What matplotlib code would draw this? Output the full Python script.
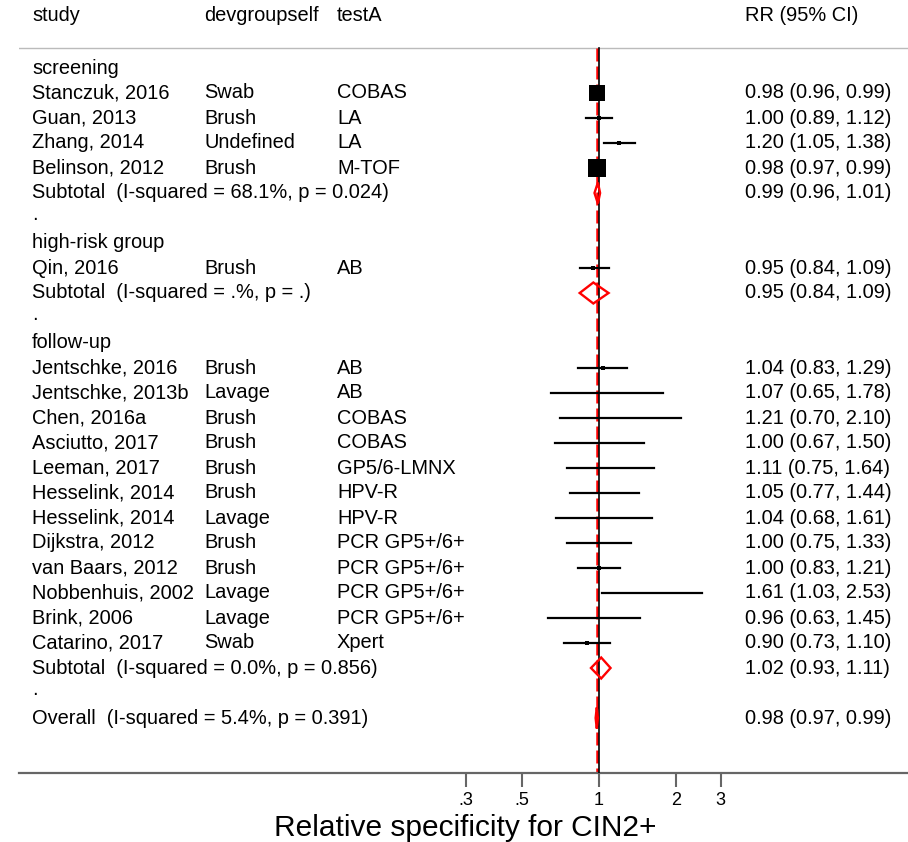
import numpy as np
import matplotlib
matplotlib.use("Agg")
from matplotlib import pyplot as plt
from matplotlib import transforms
from matplotlib.patches import Polygon

plt.rcParams['font.family'] = ['Liberation Sans', 'DejaVu Sans']

# ---- data ----
groups = ["screening", "high-risk group", "follow-up"]

study = [["Stanczuk, 2016", "Guan, 2013", "Zhang, 2014", "Belinson, 2012"],
         ["Qin, 2016"],
         ["Jentschke, 2016", "Jentschke, 2013b", "Chen, 2016a", "Asciutto, 2017",
          "Leeman, 2017", "Hesselink, 2014", "Hesselink, 2014", "Dijkstra, 2012",
          "van Baars, 2012", "Nobbenhuis, 2002", "Brink, 2006", "Catarino, 2017"]]
device = [["Swab", "Brush", "Undefined", "Brush"],
          ["Brush"],
          ["Brush", "Lavage", "Brush", "Brush", "Brush", "Brush", "Lavage",
           "Brush", "Brush", "Lavage", "Lavage", "Swab"]]
test = [["COBAS", "LA", "LA", "M-TOF"],
        ["AB"],
        ["AB", "AB", "COBAS", "COBAS", "GP5/6-LMNX", "HPV-R", "HPV-R",
         "PCR GP5+/6+", "PCR GP5+/6+", "PCR GP5+/6+", "PCR GP5+/6+", "Xpert"]]
rr = [[0.98, 1.00, 1.20, 0.98],
      [0.95],
      [1.04, 1.07, 1.21, 1.00, 1.11, 1.05, 1.04, 1.00, 1.00, 1.61, 0.96, 0.90]]
lo = [[0.96, 0.89, 1.05, 0.97],
      [0.84],
      [0.83, 0.65, 0.70, 0.67, 0.75, 0.77, 0.68, 0.75, 0.83, 1.03, 0.63, 0.73]]
hi = [[0.99, 1.12, 1.38, 0.99],
      [1.09],
      [1.29, 1.78, 2.10, 1.50, 1.64, 1.44, 1.61, 1.33, 1.21, 2.53, 1.45, 1.10]]
weight = [[34.0, 2.0, 1.5, 48.0],
          [1.5],
          [1.8, 0.3, 0.2, 0.3, 0.3, 0.4, 0.3, 0.4, 1.8, 0.2, 0.3, 1.5]]

sub_label = ["Subtotal  (I-squared = 68.1%, p = 0.024)",
             "Subtotal  (I-squared = .%, p = .)",
             "Subtotal  (I-squared = 0.0%, p = 0.856)"]
sub_rr = [0.99, 0.95, 1.02]
sub_lo = [0.96, 0.84, 0.93]
sub_hi = [1.01, 1.09, 1.11]

overall_label = "Overall  (I-squared = 5.4%, p = 0.391)"
overall_rr, overall_lo, overall_hi = 0.98, 0.97, 0.99

xticks = [0.3, 0.5, 1, 2, 3]
xticklabels = [".3", ".5", "1", "2", "3"]
xlabel = "Relative specificity for CIN2+"
headers = ["study", "devgroupself", "testA", "RR (95% CI)"]

# ---- layout ----
W, H = 908, 842
fig = plt.figure(figsize=(W / 100, H / 100), dpi=100)
ax = fig.add_axes([19 / W, 69 / H, 1 - 19 / W, 1 - 69 / H])
ax.set_xscale("log")
ax.set_xlim(10 ** ((19 - 599) / 255), 10 ** ((908 - 599) / 255))
ax.set_ylim(28.2, -2.72)

trans = transforms.blended_transform_factory(fig.transFigure, ax.transData)
col_x = [32 / W, 204 / W, 337 / W, 745 / W]
fs = 14.4


def fmt(e, l, h):
    return "%.2f (%.2f, %.2f)" % (e, l, h)


def diamond(e, l, h, y, hh=0.42):
    p = Polygon([(l, y), (e, y - hh), (h, y), (e, y + hh)], closed=True,
                fill=False, edgecolor="red", lw=1.7, zorder=4)
    ax.add_patch(p)


for c, t in zip(col_x, headers):
    ax.text(c, -2.1, t, transform=trans, fontsize=fs, va="center")
ax.axhline(-0.8, color="#bbbbbb", lw=1)

top, bottom = -0.8, 28.2
ax.plot([1, 1], [top, bottom], color="black", lw=1.2, zorder=3)
ax.plot([overall_rr, overall_rr], [top, bottom], color="red", lw=1.8,
        dashes=(5.2, 2.0), zorder=2)

row = 0
for g in range(len(groups)):
    ax.text(col_x[0], row, groups[g], transform=trans, fontsize=fs, va="center")
    row += 1
    for i in range(len(study[g])):
        ax.text(col_x[0], row, study[g][i], transform=trans, fontsize=fs, va="center")
        ax.text(col_x[1], row, device[g][i], transform=trans, fontsize=fs, va="center")
        ax.text(col_x[2], row, test[g][i], transform=trans, fontsize=fs, va="center")
        ax.text(col_x[3], row, fmt(rr[g][i], lo[g][i], hi[g][i]), transform=trans,
                fontsize=fs, va="center")
        ax.plot([lo[g][i], hi[g][i]], [row, row], color="black", lw=1.6, zorder=5)
        side = 2.74 * np.sqrt(weight[g][i]) * 0.72
        ax.scatter([rr[g][i]], [row], marker="s", s=max(side, 1.2) ** 2,
                   color="black", linewidths=0, zorder=6)
        row += 1
    ax.text(col_x[0], row, sub_label[g], transform=trans, fontsize=fs, va="center")
    ax.text(col_x[3], row, fmt(sub_rr[g], sub_lo[g], sub_hi[g]), transform=trans,
            fontsize=fs, va="center")
    diamond(sub_rr[g], sub_lo[g], sub_hi[g], row)
    row += 1
    ax.text(col_x[0], row - 0.15, ".", transform=trans, fontsize=fs, va="center")
    row += 1

ax.text(col_x[0], row, overall_label, transform=trans, fontsize=fs, va="center")
ax.text(col_x[3], row, fmt(overall_rr, overall_lo, overall_hi), transform=trans,
        fontsize=fs, va="center")
diamond(overall_rr, overall_lo, overall_hi, row)

for s in ["top", "left", "right"]:
    ax.spines[s].set_visible(False)
ax.spines["bottom"].set_color("#666666")
ax.spines["bottom"].set_linewidth(1.6)
ax.set_yticks([])
ax.set_xticks(xticks)
ax.set_xticklabels(xticklabels)
ax.minorticks_off()
ax.tick_params(axis="x", length=10, width=1.5, color="#666666", labelsize=13, pad=4)
fig.text(465.5 / W, 6 / H, xlabel, fontsize=21.5, ha="center", va="baseline")

fig.savefig("out.png", dpi=100)
